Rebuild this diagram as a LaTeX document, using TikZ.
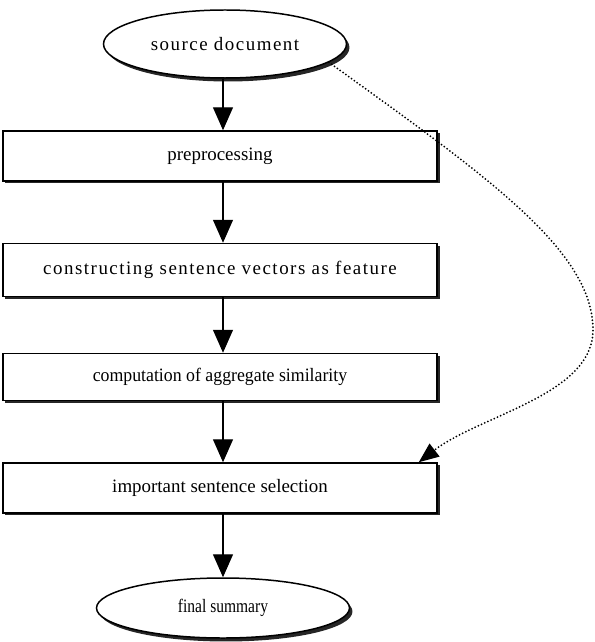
\documentclass[tikz,border=0pt]{standalone}
\usepackage{fontspec}
\setmainfont{Liberation Serif}
\usetikzlibrary{arrows.meta,shapes.geometric,shadows}

\tikzset{
  stage/.style={draw, line width=1.5pt, fill=white, minimum width=434bp,
    inner sep=0pt,
    drop shadow={shadow xshift=2.5pt, shadow yshift=-2.5pt, fill=black!85, opacity=1}},
  terminal/.style={ellipse, draw, line width=1.5pt, fill=white, inner sep=0pt,
    drop shadow={shadow xshift=3pt, shadow yshift=-3.5pt, fill=black!85, opacity=1}},
  flow/.style={-{Triangle[width=20bp,length=23bp]}, line width=1.3pt},
  feed/.style={line width=2pt, line cap=round, dash pattern=on 0pt off 3.5pt,
    -{Triangle[width=16bp,length=20bp]}},
  spaced/.style={font=\fontsize{19}{22}\selectfont\addfontfeature{LetterSpace=8}}
}

\begin{document}
\begin{tikzpicture}[x=1bp, y=-1bp, font=\fontsize{19}{22}\selectfont]
  \useasboundingbox (0,0) rectangle (595,642);
  % Ends
  \node[terminal, minimum width=243bp, minimum height=68bp, spaced] (src) at (225,44) {source document};
  \node[terminal, minimum width=253bp, minimum height=60bp] (fin) at (223,608) {\scalebox{0.82}[1]{final summary}};
  % Stages
  \node[stage, minimum height=50bp] (pre) at (220,156) {preprocessing};
  \node[stage, minimum height=53bp, spaced] (vec) at (220,270) {constructing sentence vectors as feature};
  \node[stage, minimum height=47bp] (sim) at (220,377) {\scalebox{0.94}[1]{computation of aggregate similarity}};
  \node[stage, minimum height=50bp] (sel) at (220,488) {important sentence selection};
  % Flow
  \draw[flow] (src.south -| fin) -- (pre.north -| fin);
  \draw[flow] (pre.south -| fin) -- (vec.north -| fin);
  \draw[flow] (vec.south -| fin) -- (sim.north -| fin);
  \draw[flow] (sim.south -| fin) -- (sel.north -| fin);
  \draw[flow] (sel.south -| fin) -- (fin);
  % Dotted link
  \draw[feed] (src.-10) .. controls (485,175) and (593,250) .. (593,330)
    .. controls (593,395) and (480,415) .. ([xshift=-19bp]sel.north east);
\end{tikzpicture}
\end{document}
